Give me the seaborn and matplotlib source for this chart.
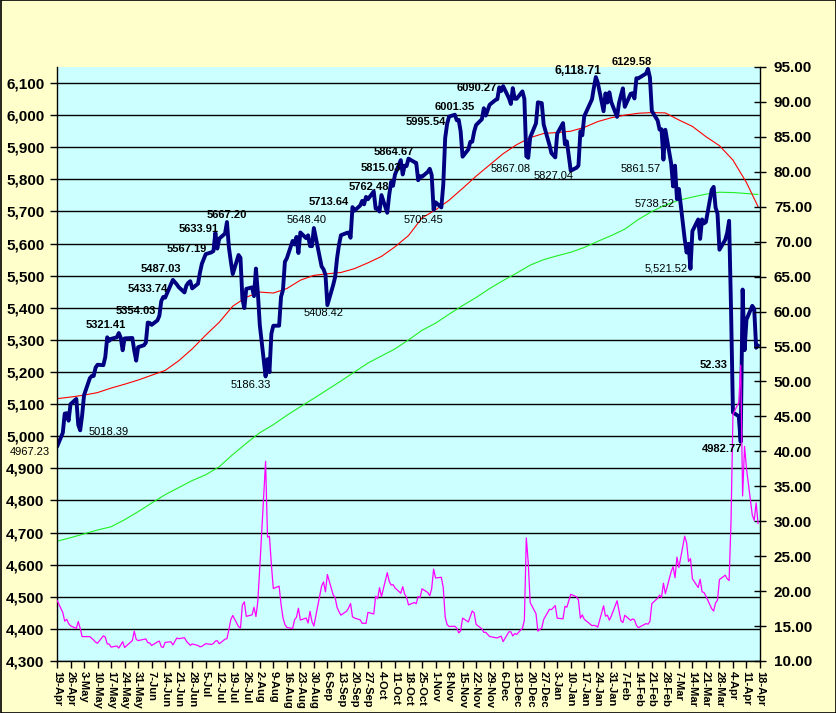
import numpy as np
import pandas as pd
import matplotlib
matplotlib.use("Agg")
import matplotlib.pyplot as plt
import matplotlib.dates as mdates
from matplotlib.patches import Rectangle
import seaborn as sns

# ---------------- data ----------------
holidays = ["2024-05-27", "2024-06-19", "2024-07-04", "2024-09-02", "2024-11-28",
            "2024-12-25", "2025-01-01", "2025-01-09", "2025-01-20", "2025-02-17"]
trade_dates = pd.bdate_range("2024-04-19", "2025-04-17", freq="C", holidays=holidays)

spx_apr24 = [4967.23, 5010.60, 5070.55, 5071.63, 5048.42, 5099.96, 5116.17, 5035.69]
spx_may24 = [5018.39, 5064.20, 5127.79, 5180.74, 5187.70, 5187.67, 5214.08, 5222.68, 5221.42,
             5246.68, 5308.15, 5297.10, 5303.27, 5308.13, 5321.41, 5307.01, 5267.84, 5304.72,
             5306.04, 5266.95, 5235.48, 5277.51]
spx_jun24 = [5283.40, 5291.34, 5354.03, 5352.96, 5346.99, 5360.79, 5375.32, 5421.03, 5433.74,
             5431.60, 5473.23, 5487.03, 5473.17, 5464.62, 5447.87, 5469.30, 5477.90, 5482.87,
             5460.48]
spx_jul24 = [5475.09, 5509.01, 5537.02, 5567.19, 5572.85, 5576.98, 5633.91, 5584.54, 5615.35,
             5631.22, 5667.20, 5588.27, 5544.59, 5505.00, 5564.41, 5555.74, 5427.13, 5399.22,
             5459.10, 5463.54, 5436.44, 5522.30]
spx_aug24 = [5446.68, 5346.56, 5186.33, 5240.03, 5199.50, 5319.31, 5344.16, 5344.39, 5434.43,
             5455.21, 5543.22, 5554.25, 5608.25, 5597.12, 5620.85, 5570.64, 5634.61, 5616.84,
             5625.80, 5592.18, 5591.96, 5648.40]
spx_sep24 = [5528.93, 5520.07, 5503.41, 5408.42, 5471.05, 5495.52, 5554.13, 5595.76, 5626.02,
             5633.09, 5634.58, 5618.26, 5713.64, 5702.55, 5718.57, 5732.93, 5722.26, 5745.37,
             5738.17, 5762.48]
spx_oct24 = [5708.75, 5709.54, 5699.94, 5751.07, 5695.94, 5751.13, 5792.04, 5780.05, 5815.03,
             5859.85, 5815.26, 5842.47, 5841.47, 5864.67, 5853.98, 5851.20, 5797.42, 5809.86,
             5808.12, 5823.52, 5832.92, 5813.67, 5705.45]
spx_nov24 = [5728.80, 5712.69, 5782.76, 5929.04, 5973.10, 5995.54, 6001.35, 5983.99, 5985.38,
             5949.17, 5870.62, 5893.62, 5916.98, 5917.11, 5948.71, 5969.34, 5987.37, 6021.63,
             5998.74, 6032.38]
spx_dec24 = [6047.15, 6049.88, 6086.49, 6075.11, 6090.27, 6052.85, 6034.91, 6084.19, 6051.25,
             6051.09, 6074.08, 6050.61, 5872.16, 5867.08, 5930.85, 5974.07, 6040.04, 6037.59,
             5970.84, 5906.94, 5881.63]
spx_jan25 = [5868.55, 5942.47, 5975.38, 5909.03, 5918.25, 5827.04, 5836.22, 5842.91, 5949.91,
             5937.34, 5996.66, 6049.24, 6086.37, 6118.71, 6101.24, 6012.28, 6067.70, 6039.31,
             6071.17, 6040.53]
spx_feb25 = [5994.57, 6037.88, 6061.48, 6083.57, 6025.99, 6066.44, 6068.50, 6051.97, 6115.07,
             6114.63, 6129.58, 6144.15, 6117.52, 6013.13, 5983.25, 5955.25, 5956.06, 5861.57,
             5954.50]
spx_mar25 = [5849.72, 5778.15, 5842.63, 5738.52, 5770.20, 5614.56, 5572.07, 5599.30, 5521.52,
             5638.94, 5675.12, 5614.66, 5675.29, 5662.89, 5667.56, 5767.57, 5776.65, 5712.20,
             5693.31, 5580.94, 5611.85]
spx_apr25 = [5633.07, 5670.97, 5396.52, 5074.08, 5062.25, 4982.77, 5456.90, 5268.05, 5363.36,
             5405.97, 5396.63, 5275.70, 5282.70]

vix_apr24 = [18.71, 16.94, 15.69, 15.97, 15.37, 15.03, 14.67, 15.65]
vix_may24 = [14.68, 13.49, 13.49, 13.49, 13.23, 13.00, 12.69, 12.55, 13.60, 13.42, 12.45, 12.42,
             11.99, 12.15, 11.86, 12.29, 12.77, 11.93, 12.92, 14.28, 13.10, 12.92]
vix_jun24 = [13.11, 13.16, 12.63, 12.58, 12.22, 12.74, 12.85, 12.04, 11.94, 12.66, 12.75, 12.30,
             13.28, 13.20, 13.33, 12.84, 12.55, 12.24, 12.44]
vix_jul24 = [12.22, 12.03, 12.09, 12.48, 12.37, 12.51, 12.85, 12.91, 12.46, 13.12, 13.19, 14.48,
             15.93, 16.52, 14.91, 14.72, 18.04, 18.46, 16.39, 16.60, 17.69, 16.36]
vix_aug24 = [18.59, 23.39, 38.57, 27.71, 27.85, 23.79, 20.37, 20.71, 18.12, 16.19, 15.23, 14.80,
             14.65, 15.88, 16.27, 17.55, 15.86, 16.15, 15.43, 17.11, 15.65, 15.00]
vix_sep24 = [20.72, 21.32, 19.90, 22.38, 19.45, 19.08, 17.69, 17.07, 16.56, 17.14, 17.61, 18.23,
             16.33, 16.15, 15.89, 15.39, 15.41, 15.37, 16.96, 16.73]
vix_oct24 = [19.26, 18.90, 20.49, 19.21, 22.64, 21.42, 20.86, 20.93, 20.46, 19.70, 20.64, 19.58,
             19.11, 18.03, 18.37, 18.20, 19.24, 19.08, 20.33, 19.80, 19.34, 20.35, 23.16]
vix_nov24 = [21.88, 21.98, 20.49, 16.27, 15.20, 14.94, 14.97, 14.71, 14.02, 14.31, 16.14, 15.58,
             16.35, 17.16, 16.87, 15.24, 14.60, 14.10, 14.10, 13.51]
vix_dec24 = [13.34, 13.30, 13.45, 13.54, 12.77, 14.19, 14.18, 13.58, 13.92, 13.81, 14.69, 15.87,
             27.62, 24.09, 18.36, 16.78, 14.27, 14.73, 15.95, 17.40, 17.35]
vix_jan25 = [17.93, 16.13, 16.04, 17.82, 17.70, 19.54, 19.19, 18.71, 16.12, 16.60, 15.97, 15.06,
             15.10, 15.02, 14.85, 17.90, 16.41, 16.56, 15.84, 16.43]
vix_feb25 = [18.62, 17.21, 15.77, 15.50, 16.54, 15.81, 16.02, 15.89, 15.10, 14.77, 15.35, 15.27,
             15.66, 18.21, 18.98, 19.43, 19.10, 21.13, 19.63]
vix_mar25 = [22.78, 23.51, 21.93, 24.87, 23.37, 27.86, 26.92, 24.23, 24.66, 21.77, 20.51, 21.70,
             19.90, 19.80, 19.28, 17.48, 17.15, 18.33, 18.69, 21.65, 22.28]
vix_apr25 = [21.77, 21.51, 30.02, 45.31, 46.98, 52.33, 33.62, 40.72, 37.56, 30.89, 30.12, 32.64,
             29.65]

# weekly readings of the 50-day (red) and 200-day (green) moving averages
ma_dates = list(pd.date_range("2024-04-19", periods=52, freq="7D")) + [pd.Timestamp("2025-04-17")]
ma50 = [5117, 5122, 5128, 5136, 5150, 5162, 5175, 5190, 5205, 5235, 5272, 5315, 5355, 5405,
        5433, 5449, 5446, 5460, 5486, 5501, 5506, 5510, 5522, 5540, 5560, 5590, 5625, 5680,
        5705, 5735, 5772, 5810, 5845, 5880, 5908, 5930, 5943, 5946, 5950, 5962, 5980, 5992,
        6000, 6006, 6008, 6007, 5985, 5965, 5933, 5905, 5860, 5790, 5715]
ma200 = [4673, 4684, 4696, 4708, 4718, 4740, 4765, 4792, 4818, 4840, 4862, 4880, 4905, 4943,
         4978, 5011, 5036, 5065, 5092, 5118, 5145, 5172, 5200, 5228, 5250, 5272, 5300, 5330,
         5352, 5380, 5407, 5432, 5460, 5485, 5508, 5533, 5550, 5562, 5573, 5588, 5607, 5625,
         5645, 5675, 5700, 5720, 5735, 5745, 5754, 5760, 5759, 5756, 5753]

tick_dates = pd.date_range("2024-04-19", "2025-04-18", freq="7D")
tick_labels = [f"{d.day}-{d:%b}" for d in tick_dates]
left_ticks = list(range(4300, 6101, 100))
right_ticks = list(np.arange(10, 95.01, 5))

# data labels: date, series, text, bold
label_dates = ["2024-04-19", "2024-05-01", "2024-05-21", "2024-06-05", "2024-06-13", "2024-06-18",
               "2024-07-05", "2024-07-10", "2024-07-16", "2024-08-05", "2024-08-30", "2024-09-06",
               "2024-09-19", "2024-09-30", "2024-10-11", "2024-10-18", "2024-10-31", "2024-11-08",
               "2024-11-11", "2024-12-06", "2024-12-19", "2025-01-10", "2025-01-23", "2025-02-18",
               "2025-02-27", "2025-03-06", "2025-03-13", "2025-04-08", "2025-04-08"]
label_series = ["spx"] * 27 + ["vix", "spx"]
label_texts = ["4967.23", "5018.39", "5321.41", "5354.03", "5433.74", "5487.03", "5567.19",
               "5633.91", "5667.20", "5186.33", "5648.40", "5408.42", "5713.64", "5762.48",
               "5815.03", "5864.67", "5705.45", "5995.54", "6001.35", "6090.27", "5867.08",
               "5827.04", "6,118.71", "6129.58", "5861.57", "5738.52", "5,521.52", "52.33",
               "4982.77"]
label_bold = [False, False, True, True, True, True, True, True, True, False, False, False,
              True, True, True, True, False, True, True, True, False, False, True, True,
              False, False, False, True, True]
# label placement (pixel offsets right / down from the point)
label_offsets = [(-27, 5), (28, 2), (-13, -8), (-12, -12), (-15, -8), (-12, -11), (-19, -5),
                 (-17, -4), (0, -7), (-15, 9), (-7, -8), (-4, 8), (-24, -5), (-5, -4),
                 (-14, -7), (-15, -7), (-10, 10), (-23, 5), (0, -8), (-26, 2), (-18, 11),
                 (-17, 5), (-18, -6), (-14, -12), (-23, 9), (-22, 5), (-24, 0), (-27, 0),
                 (-19, 7)]

# ---------------- build ----------------
spx = sum([spx_apr24, spx_may24, spx_jun24, spx_jul24, spx_aug24, spx_sep24, spx_oct24,
           spx_nov24, spx_dec24, spx_jan25, spx_feb25, spx_mar25, spx_apr25], [])
vix = sum([vix_apr24, vix_may24, vix_jun24, vix_jul24, vix_aug24, vix_sep24, vix_oct24,
           vix_nov24, vix_dec24, vix_jan25, vix_feb25, vix_mar25, vix_apr25], [])
assert len(spx) == len(trade_dates) == len(vix), (len(spx), len(vix), len(trade_dates))
df = pd.DataFrame({"date": trade_dates, "spx": spx, "vix": vix})
ma = pd.DataFrame({"date": ma_dates, "ma50": ma50, "ma200": ma200})

sns.set_style("white")
plt.rcParams["font.family"] = ["Liberation Sans", "DejaVu Sans"]

W, H = 837, 713
fig = plt.figure(figsize=(W / 100, H / 100), dpi=100, facecolor="#FFFFCC")
L, R, T, B = 57, 760, 67, 661
ax = fig.add_axes([L / W, 1 - B / H, (R - L) / W, (B - T) / H])
ax.set_facecolor("#CCFFFF")
ax2 = ax.twinx()

sns.lineplot(data=ma, x="date", y="ma200", ax=ax, color="#22EE22", linewidth=0.8)
sns.lineplot(data=ma, x="date", y="ma50", ax=ax, color="#FF0000", linewidth=0.8)
sns.lineplot(data=df, x="date", y="spx", ax=ax, color="#000080", linewidth=2.8)
sns.lineplot(data=df, x="date", y="vix", ax=ax2, color="#FF00FF", linewidth=0.9)

ax.set_xlim(pd.Timestamp("2024-04-19"), pd.Timestamp("2025-04-18"))
ax.set_ylim(4300, 6150)
ax2.set_ylim(10, 95)
for a in (ax, ax2):
    a.set_xlabel("")
    a.set_ylabel("")

ax.yaxis.grid(True, color="black", linewidth=1.0)
ax.xaxis.grid(False)
ax.set_yticks(left_ticks)
ax.set_yticklabels([f"{v:,}" for v in left_ticks], fontsize=11, fontweight="bold")
ax2.set_yticks(right_ticks)
ax2.set_yticklabels([f"{v:.2f}" for v in right_ticks], fontsize=11, fontweight="bold")
ax.set_xticks(tick_dates)
ax.set_xticklabels(tick_labels, rotation=-90, fontsize=8, fontweight="bold", ha="center", va="top")

ax.tick_params(axis="y", direction="out", length=5, width=1, pad=4, colors="black", left=True)
ax.tick_params(axis="x", direction="out", length=5, width=1, pad=2, colors="black", bottom=True)
ax2.tick_params(axis="y", direction="inout", length=8, width=1, pad=6, colors="black", right=True)

for s in ("left", "bottom"):
    ax.spines[s].set_color("black")
    ax.spines[s].set_linewidth(1.0)
ax.spines["top"].set_visible(False)
ax.spines["right"].set_visible(False)
for s in ("left", "top", "bottom"):
    ax2.spines[s].set_visible(False)
ax2.spines["right"].set_color("black")
ax2.spines["right"].set_linewidth(1.0)

spx_s = df.set_index("date")["spx"]
vix_s = df.set_index("date")["vix"]
for d, ser, txt, bold, (dx, dy) in zip(label_dates, label_series, label_texts, label_bold, label_offsets):
    dt = pd.Timestamp(d)
    xn = mdates.date2num(dt)
    if ser == "spx":
        yv, tr = float(spx_s[dt]), ax.transData
    else:
        yv, tr = float(vix_s[dt]), ax2.transData
    fs = 8.7 if txt == "6,118.71" else 8
    ax2.annotate(txt, xy=(xn, yv), xycoords=tr, xytext=(dx, -dy), textcoords="offset pixels",
                 ha="center", va="center", fontsize=fs,
                 fontweight="bold" if bold else "normal", color="black",
                 annotation_clip=False, zorder=10)

fig.patches.append(Rectangle((0.0006, 0.0007), 0.9988, 0.9986, transform=fig.transFigure,
                             fill=False, edgecolor="black", linewidth=1.2))

fig.savefig("out.png", dpi=100, facecolor=fig.get_facecolor())
